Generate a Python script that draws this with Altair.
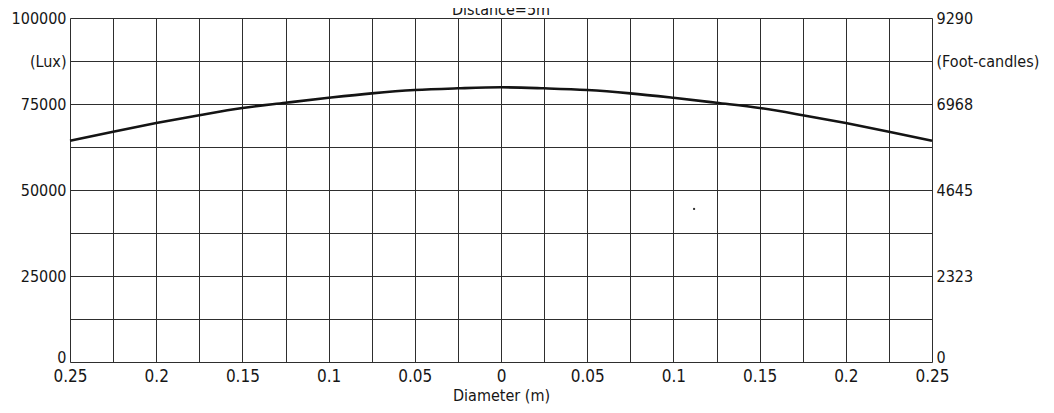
import altair as alt
import pandas as pd

# ---- data ----
diameter = [-0.25, -0.225, -0.2, -0.175, -0.15, -0.125, -0.1, -0.075, -0.05, -0.025, 0.0,
            0.025, 0.05, 0.075, 0.1, 0.125, 0.15, 0.175, 0.2, 0.225, 0.25]
lux = [64300, 66950, 69450, 71750, 73850, 75350, 76800, 78100, 79070, 79560, 79850,
       79560, 79070, 78100, 76800, 75350, 73850, 71750, 69450, 66950, 64300]

lux_ticks = [0, 25000, 50000, 75000, 100000]
fc_labels = ["0", "2323", "4645", "6968", "9290"]
y_grid = [0, 12500, 25000, 37500, 50000, 62500, 75000, 87500, 100000]
x_grid = [-0.25, -0.225, -0.2, -0.175, -0.15, -0.125, -0.1, -0.075, -0.05, -0.025, 0.0,
          0.025, 0.05, 0.075, 0.1, 0.125, 0.15, 0.175, 0.2, 0.225, 0.25]
unit_value = 87500
left_unit = "(Lux)"
right_unit = "(Foot-candles)"

dot_x = [0.112]
dot_y = [44500]

df = pd.DataFrame({"d": diameter, "lux": lux})
dot_df = pd.DataFrame({"d": dot_x, "lux": dot_y})

FONT = "Tahoma, 'DejaVu Sans Condensed', 'Noto Sans', sans-serif"
TXT = "#161616"
GRID = "#2e2e2e"

x_scale = alt.Scale(domain=[-0.25, 0.25], nice=False, zero=False)
y_scale = alt.Scale(domain=[0, 100000], nice=False, zero=True)

zero_baseline = alt.condition("datum.value == 0", alt.value("alphabetic"), alt.value("middle"))

x_axis = alt.Axis(
    values=x_grid,
    labelExpr="round(datum.value*1000) % 50 == 0 ? toString(abs(datum.value)) : ''",
    grid=True, gridColor=GRID, gridWidth=1, gridOpacity=1,
    ticks=False, domain=False, labelFlush=False, labelOverlap=False,
    labelPadding=6, labelFontSize=17, labelFont=FONT, labelColor=TXT,
    title="Diameter (m)", titleFont=FONT, titleFontSize=16, titleFontWeight="normal",
    titleColor=TXT, titlePadding=3,
)

left_expr = ("datum.value == %d ? '%s' : (datum.value %% 25000 == 0 ? toString(datum.value) : '')"
             % (unit_value, left_unit))
left_axis = alt.Axis(
    values=y_grid, labelExpr=left_expr,
    grid=True, gridColor=GRID, gridWidth=1, gridOpacity=1,
    ticks=False, domain=False, labelOverlap=False, labelBaseline=zero_baseline,
    labelPadding=4, labelFontSize=16, labelFont=FONT, labelColor=TXT, title=None,
)

right_expr = "datum.value == %d ? '%s' : " % (unit_value, right_unit)
for v, lab in zip(lux_ticks, fc_labels):
    right_expr += "datum.value == %d ? '%s' : " % (v, lab)
right_expr += "''"
right_axis = alt.Axis(
    values=y_grid, labelExpr=right_expr, orient="right",
    grid=False, ticks=False, domain=False, labelOverlap=False, labelBaseline=zero_baseline,
    labelPadding=4, labelFontSize=16, labelFont=FONT, labelColor=TXT, title=None,
)

line = alt.Chart(df).mark_line(color="#141414", strokeWidth=2.6, interpolate="monotone").encode(
    x=alt.X("d:Q", scale=x_scale, axis=x_axis),
    y=alt.Y("lux:Q", scale=y_scale, axis=left_axis),
)

right = alt.Chart(df).mark_line(opacity=0).encode(
    x=alt.X("d:Q", scale=x_scale, axis=x_axis),
    y=alt.Y("lux:Q", scale=y_scale, axis=right_axis),
)

dot = alt.Chart(dot_df).mark_square(size=4, color="#333333", opacity=1).encode(
    x=alt.X("d:Q", scale=x_scale, axis=x_axis),
    y=alt.Y("lux:Q", scale=y_scale, axis=None),
)

chart = alt.layer(line, right, dot).resolve_axis(y="independent").properties(
    width=862, height=344,
    title=alt.TitleParams("Distance=5m", font=FONT, fontSize=16, fontWeight="normal",
                          color=TXT, anchor="middle", offset=3, dy=11),
    autosize=alt.AutoSizeParams(type="none"),
    padding={"left": 62, "top": 10, "right": 112, "bottom": 42},
).configure_view(stroke="#1e1e1e", strokeWidth=1.5).configure(background="white")

chart.save("out.html", embed_options={"renderer": "svg", "actions": False})
